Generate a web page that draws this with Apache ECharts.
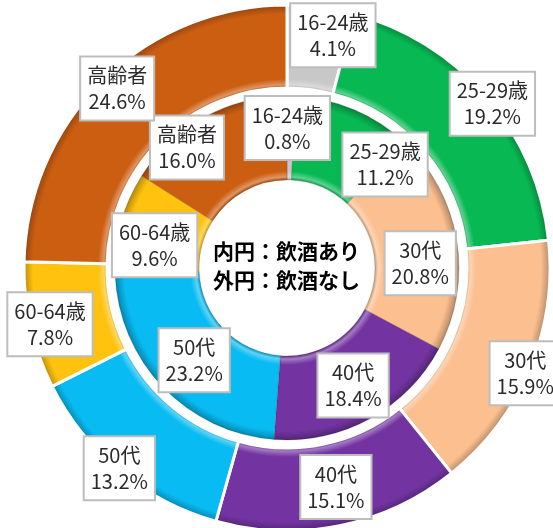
<!DOCTYPE html>
<html>
<head>
<meta charset="utf-8">
<script src="https://cdn.jsdelivr.net/npm/echarts@6/dist/echarts.min.js"></script>
<style>
  html, body { margin: 0; padding: 0; background: #fff; }
  #chart { width: 553px; height: 528px; }
</style>
</head>
<body>
<div id="chart"></div>
<script>
// 年齢区分
const categories = ['16-24歳', '25-29歳', '30代', '40代', '50代', '60-64歳', '高齢者'];
// 内円：飲酒あり (%)
const innerValues = [0.8, 11.2, 20.8, 18.4, 23.2, 9.6, 16.0];
// 外円：飲酒なし (%)
const outerValues = [4.1, 19.2, 15.9, 15.1, 13.2, 7.8, 24.6];

const colors = ['#C8C8C8', '#07B853', '#FBBF90', '#7334A2', '#08BBF2', '#FFC20E', '#CC5E12'];

// layout
const CX = 287, CY = 268;
const innerR = [88, 172];
const outerR = [180, 263];
// manual label nudges (like the hand-placed labels in the original)
const innerShift = [[-3, -7], [46, 19], [2, 17], [2, 1], [3, 0], [-4, 12], [-36, -4]];
const outerShift = [[17, -10], [35, -18], [31, 19], [4, -1], [-25, 27], [-18, 7], [-13, -19]];

function mix(hex, target, t) {
  const c = echarts.color.parse(hex);
  const r = Math.round(c[0] + (target[0] - c[0]) * t);
  const g = Math.round(c[1] + (target[1] - c[1]) * t);
  const b = Math.round(c[2] + (target[2] - c[2]) * t);
  return 'rgb(' + r + ',' + g + ',' + b + ')';
}
const dark = (c, t) => mix(c, [0, 0, 0], t);
const light = (c, t) => mix(c, [255, 255, 255], t);

// radial bevel look
function bevel(color, r0, r1) {
  const a = r0 / r1;
  return new echarts.graphic.RadialGradient(CX, CY, r1, [
    { offset: 0, color: dark(color, 0.25) },
    { offset: a, color: dark(color, 0.2) },
    { offset: a + 3 / r1, color: light(color, 0.35) },
    { offset: a + 9 / r1, color: color },
    { offset: 1 - 9 / r1, color: color },
    { offset: 1 - 3 / r1, color: dark(color, 0.18) },
    { offset: 1, color: dark(color, 0.3) }
  ], true);
}

function buildData(values, r) {
  return categories.map((name, i) => ({
    name: name,
    value: values[i],
    itemStyle: { color: bevel(colors[i], r[0], r[1]) }
  }));
}

const labelStyle = {
  show: true,
  position: 'inside',
  formatter: (p) => p.name + '\n' + p.value.toFixed(1) + '%',
  color: '#2b2b2b',
  fontSize: 20,
  lineHeight: 26,
  fontFamily: '"Noto Sans CJK JP", sans-serif',
  backgroundColor: '#fff',
  borderColor: '#BDBDBD',
  borderWidth: 2,
  padding: [6, 6, 4, 6],
  align: 'center'
};

const chart = echarts.init(document.getElementById('chart'), null, { renderer: 'canvas' });

chart.setOption({
  animation: false,
  graphic: [{
    type: 'text',
    left: CX - 74,
    top: CY - 31,
    style: {
      text: '内円：飲酒あり\n外円：飲酒なし',
      font: 'bold 21px "Noto Sans CJK JP", sans-serif',
      fill: '#000',
      lineHeight: 29
    },
    z: 10
  }],
  series: [
    {
      name: '飲酒あり',
      type: 'pie',
      center: [CX, CY],
      radius: innerR,
      startAngle: 90,
      clockwise: true,
      data: buildData(innerValues, innerR),
      itemStyle: { borderColor: 'rgba(0,0,0,0.25)', borderWidth: 0.6 },
      label: labelStyle,
      labelLine: { show: false },
      labelLayout: (p) => ({ dx: innerShift[p.dataIndex][0], dy: innerShift[p.dataIndex][1] }),
      emphasis: { disabled: true }
    },
    {
      name: '飲酒なし',
      type: 'pie',
      center: [CX, CY],
      radius: outerR,
      startAngle: 90,
      clockwise: true,
      data: buildData(outerValues, outerR),
      itemStyle: { borderColor: '#fff', borderWidth: 3 },
      label: labelStyle,
      labelLine: { show: false },
      labelLayout: (p) => ({ dx: outerShift[p.dataIndex][0], dy: outerShift[p.dataIndex][1] }),
      emphasis: { disabled: true }
    }
  ]
});
</script>
</body>
</html>
